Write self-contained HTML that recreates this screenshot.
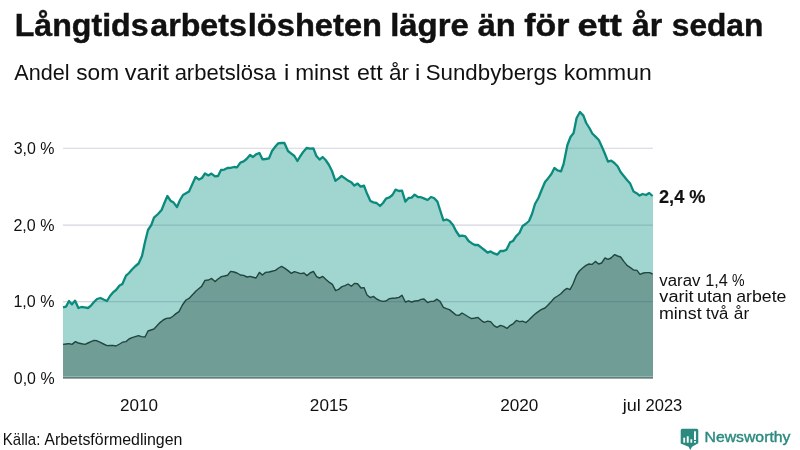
<!DOCTYPE html>
<html><head><meta charset="utf-8">
<style>
html,body{margin:0;padding:0;background:#fff;}
body{width:800px;height:450px;overflow:hidden;font-family:"Liberation Sans",sans-serif;}
svg{display:block;}
text{font-family:"Liberation Sans",sans-serif;fill:#111;}
</style></head><body>
<svg width="800" height="450" viewBox="0 0 800 450">
<rect width="800" height="450" fill="#ffffff"/>
<g stroke="#d4d4df" stroke-width="1.05">
<line x1="63" x2="653" y1="148.3" y2="148.3"/>
<line x1="63" x2="653" y1="225.1" y2="225.1"/>
<line x1="63" x2="653" y1="301.6" y2="301.6"/>
</g>
<path d="M63,307.4 L66,306.6 L69,301 L72,304.4 L75,300.6 L78.4,308 L81.4,307 L84.6,307.4 L88,308 L91,305.6 L94,302 L97,299 L100.4,298 L103.6,299.5 L107,301 L110,296 L113,292.4 L116,290 L119.6,285.6 L122.4,284 L126,275.6 L129,273 L132,269.5 L135,266.5 L138.6,263.5 L142,256 L145,242 L148,230 L151.3,225 L154,217.6 L158,214 L161.6,210 L164.4,203 L167.4,196 L170.5,200.7 L173.6,202.6 L177,207 L180,200 L183,195 L186,193.3 L189,191.6 L192.4,184 L195.6,177 L199,179.6 L202,178 L205,173.4 L208.4,175.4 L211.4,173.6 L215,176.4 L218,176 L221,170 L224.4,169.6 L227.4,168 L230.6,167.8 L234,167 L237,167.4 L240.4,162.6 L243.6,161.4 L246.6,159 L250,155 L253,157 L256,154.4 L259.4,153 L262.6,159.4 L265.6,159 L269,158.4 L272,151 L275,147 L278,143.4 L281.4,143 L284.4,143 L288,151 L291,153.4 L294.4,156 L297.4,161 L300.4,156 L303.6,151.4 L306.6,148 L310,148.6 L313.4,148.4 L316.4,156 L319.6,159.6 L322.6,157 L325.6,160 L329,165 L332,171 L335.4,180.8 L338.4,178.6 L341.6,176 L345,178.4 L348,180.6 L351.6,182.6 L354.4,185.6 L357.6,183.6 L360.6,186.6 L364,185.6 L367,193.6 L370.4,201 L373.4,202.4 L376.6,203 L380,206 L383,203 L386,198.6 L389.4,197.4 L392.4,195 L395.6,189.6 L399,191 L402,190.6 L405.4,201.6 L408.6,198 L411.6,197.6 L414.6,194.6 L418,197 L421,197.2 L424.4,198.6 L427.6,200 L431,197 L434,198 L437.4,201.6 L440.4,211 L443.4,220.4 L446.6,219.5 L449.6,221 L453,225 L456,231 L459.4,236 L462.4,235.6 L465.4,236.4 L468.6,241 L472,243.4 L475,245 L478,245 L481.4,247.6 L484.4,250 L487.6,252.6 L490.6,251.4 L494,253.4 L497.4,254.6 L500.4,251 L503.6,251 L506.6,249.6 L510,242.4 L513,241 L516,236.4 L519.4,233 L522.6,226 L525.6,224 L529,221 L532,214 L535,204 L538.4,198 L541.6,190 L545,182 L548,178.4 L551.4,174 L554.4,168 L557.6,170.4 L561,171.4 L563.6,164 L567.4,145 L570.5,137 L573.6,133 L576.6,118 L580,112 L583.4,115.6 L586.2,123 L589.4,128 L592.3,133.5 L595.5,136.6 L598.8,140 L602,147 L605,154 L608,161.6 L611.2,160.6 L614.4,163 L617.6,166.2 L620.6,172 L624,176.2 L627,180 L630.2,183.6 L633.6,191.6 L636.6,193.2 L639.6,195.6 L642.6,194 L646,195 L649.2,193 L652.6,196 L653,196 L653,377.1 L63,377.1 Z" fill="rgb(20,150,135)" fill-opacity="0.4"/>
<path d="M63,307.4 L66,306.6 L69,301 L72,304.4 L75,300.6 L78.4,308 L81.4,307 L84.6,307.4 L88,308 L91,305.6 L94,302 L97,299 L100.4,298 L103.6,299.5 L107,301 L110,296 L113,292.4 L116,290 L119.6,285.6 L122.4,284 L126,275.6 L129,273 L132,269.5 L135,266.5 L138.6,263.5 L142,256 L145,242 L148,230 L151.3,225 L154,217.6 L158,214 L161.6,210 L164.4,203 L167.4,196 L170.5,200.7 L173.6,202.6 L177,207 L180,200 L183,195 L186,193.3 L189,191.6 L192.4,184 L195.6,177 L199,179.6 L202,178 L205,173.4 L208.4,175.4 L211.4,173.6 L215,176.4 L218,176 L221,170 L224.4,169.6 L227.4,168 L230.6,167.8 L234,167 L237,167.4 L240.4,162.6 L243.6,161.4 L246.6,159 L250,155 L253,157 L256,154.4 L259.4,153 L262.6,159.4 L265.6,159 L269,158.4 L272,151 L275,147 L278,143.4 L281.4,143 L284.4,143 L288,151 L291,153.4 L294.4,156 L297.4,161 L300.4,156 L303.6,151.4 L306.6,148 L310,148.6 L313.4,148.4 L316.4,156 L319.6,159.6 L322.6,157 L325.6,160 L329,165 L332,171 L335.4,180.8 L338.4,178.6 L341.6,176 L345,178.4 L348,180.6 L351.6,182.6 L354.4,185.6 L357.6,183.6 L360.6,186.6 L364,185.6 L367,193.6 L370.4,201 L373.4,202.4 L376.6,203 L380,206 L383,203 L386,198.6 L389.4,197.4 L392.4,195 L395.6,189.6 L399,191 L402,190.6 L405.4,201.6 L408.6,198 L411.6,197.6 L414.6,194.6 L418,197 L421,197.2 L424.4,198.6 L427.6,200 L431,197 L434,198 L437.4,201.6 L440.4,211 L443.4,220.4 L446.6,219.5 L449.6,221 L453,225 L456,231 L459.4,236 L462.4,235.6 L465.4,236.4 L468.6,241 L472,243.4 L475,245 L478,245 L481.4,247.6 L484.4,250 L487.6,252.6 L490.6,251.4 L494,253.4 L497.4,254.6 L500.4,251 L503.6,251 L506.6,249.6 L510,242.4 L513,241 L516,236.4 L519.4,233 L522.6,226 L525.6,224 L529,221 L532,214 L535,204 L538.4,198 L541.6,190 L545,182 L548,178.4 L551.4,174 L554.4,168 L557.6,170.4 L561,171.4 L563.6,164 L567.4,145 L570.5,137 L573.6,133 L576.6,118 L580,112 L583.4,115.6 L586.2,123 L589.4,128 L592.3,133.5 L595.5,136.6 L598.8,140 L602,147 L605,154 L608,161.6 L611.2,160.6 L614.4,163 L617.6,166.2 L620.6,172 L624,176.2 L627,180 L630.2,183.6 L633.6,191.6 L636.6,193.2 L639.6,195.6 L642.6,194 L646,195 L649.2,193 L652.6,196" fill="none" stroke="#0b8b7d" stroke-width="2.3" stroke-linejoin="round" stroke-linecap="butt"/>
<path d="M63,344.4 L66,344 L69,343.6 L72,344.4 L75.4,341.6 L78.4,343 L81.6,343.7 L85,344.4 L88,343 L91,341.7 L94,340.4 L97,340.8 L100.4,342.4 L103.6,344 L107,345.6 L110,345.5 L113,345.4 L116,346 L119.6,344 L123,342 L126,341.6 L129,339 L132,337.6 L135.2,336.6 L138.4,335.6 L141.6,336.6 L145,337 L148,331 L151,330 L154,329 L157,325.8 L160,322.6 L163.2,320 L166.4,318.4 L170.4,318 L173.2,316 L176,313.6 L179,311.6 L182.4,305 L186,300 L189,298.4 L192.5,294.7 L196,291 L199,288.5 L201.6,286.4 L205,280.4 L208.6,280 L211.6,278.4 L215,281.6 L218,279 L221.4,276.6 L224.4,276 L227.6,275.2 L230.6,271.4 L234,272 L237,273 L240.4,275 L243.6,275.4 L247,277 L250,276.4 L253,277.2 L256,278 L259.4,272.4 L262.4,275 L265.6,272.4 L269,272 L272,271.2 L275.4,270.4 L278.6,268 L281.6,266.4 L285,268.4 L288,270.6 L291.4,273.4 L294.4,271.6 L297.6,272.6 L300.6,273.6 L304,273 L307,275.6 L310,273 L313.4,271.4 L316.6,276.6 L319.6,278 L322.8,276.4 L326,279.4 L329.4,282.4 L332.4,284.4 L335.6,290.6 L338.6,289.4 L342,286.6 L345,285.6 L348,284 L351.4,286.2 L354.4,283.4 L357.6,283.8 L361,288 L364,287.6 L367,295 L370.4,297.6 L373.4,296.4 L376.6,299 L380,300.6 L383,301.4 L386,301 L389.4,298.6 L392.6,298.2 L395.6,298 L399,297.4 L402,295.2 L405.4,302 L408.6,300.8 L411.6,302 L415,301 L418,300.8 L421,299.4 L424,299 L427.6,302.6 L430.6,301.4 L434,301.2 L437,299.2 L440,301.4 L443.4,307.4 L446.4,308.6 L449.4,309.6 L452.8,312.4 L456,315 L459,315.4 L462,313 L465.4,315 L468.6,317 L471.6,318.6 L475,318 L478,317.4 L481.4,320.6 L484.4,322.4 L487.6,321.2 L490.6,321.6 L494,325.6 L497,327.4 L500.4,325.4 L503.6,326.4 L507,328.4 L510,325.6 L513.4,323.6 L516.4,320.4 L519.6,321.6 L522.6,321.2 L526,322.6 L529.4,319.6 L532.4,316.6 L535.6,313.6 L538.6,311.4 L541.6,309.4 L545,308 L548,305 L551.4,301.4 L554.4,298 L557.6,296 L560.6,294 L564,290.4 L567,288.4 L570,289.6 L573,284 L576.4,275.4 L579.4,271 L582.6,268 L586,265.4 L589,264 L592,264.4 L595.4,261.4 L598.6,264 L601.6,263 L605,258 L608,259.4 L611,258 L614.6,254.6 L617.6,256 L620.6,257 L624,261.6 L627,265.4 L630.4,267.6 L633.6,270 L637,270.4 L640,274.4 L643.4,273 L646.6,272.6 L649.6,272.6 L652.6,274 L653,274 L653,376.4 L63,376.4 Z" fill="rgb(41,75,67)" fill-opacity="0.4"/>
<path d="M63,344.4 L66,344 L69,343.6 L72,344.4 L75.4,341.6 L78.4,343 L81.6,343.7 L85,344.4 L88,343 L91,341.7 L94,340.4 L97,340.8 L100.4,342.4 L103.6,344 L107,345.6 L110,345.5 L113,345.4 L116,346 L119.6,344 L123,342 L126,341.6 L129,339 L132,337.6 L135.2,336.6 L138.4,335.6 L141.6,336.6 L145,337 L148,331 L151,330 L154,329 L157,325.8 L160,322.6 L163.2,320 L166.4,318.4 L170.4,318 L173.2,316 L176,313.6 L179,311.6 L182.4,305 L186,300 L189,298.4 L192.5,294.7 L196,291 L199,288.5 L201.6,286.4 L205,280.4 L208.6,280 L211.6,278.4 L215,281.6 L218,279 L221.4,276.6 L224.4,276 L227.6,275.2 L230.6,271.4 L234,272 L237,273 L240.4,275 L243.6,275.4 L247,277 L250,276.4 L253,277.2 L256,278 L259.4,272.4 L262.4,275 L265.6,272.4 L269,272 L272,271.2 L275.4,270.4 L278.6,268 L281.6,266.4 L285,268.4 L288,270.6 L291.4,273.4 L294.4,271.6 L297.6,272.6 L300.6,273.6 L304,273 L307,275.6 L310,273 L313.4,271.4 L316.6,276.6 L319.6,278 L322.8,276.4 L326,279.4 L329.4,282.4 L332.4,284.4 L335.6,290.6 L338.6,289.4 L342,286.6 L345,285.6 L348,284 L351.4,286.2 L354.4,283.4 L357.6,283.8 L361,288 L364,287.6 L367,295 L370.4,297.6 L373.4,296.4 L376.6,299 L380,300.6 L383,301.4 L386,301 L389.4,298.6 L392.6,298.2 L395.6,298 L399,297.4 L402,295.2 L405.4,302 L408.6,300.8 L411.6,302 L415,301 L418,300.8 L421,299.4 L424,299 L427.6,302.6 L430.6,301.4 L434,301.2 L437,299.2 L440,301.4 L443.4,307.4 L446.4,308.6 L449.4,309.6 L452.8,312.4 L456,315 L459,315.4 L462,313 L465.4,315 L468.6,317 L471.6,318.6 L475,318 L478,317.4 L481.4,320.6 L484.4,322.4 L487.6,321.2 L490.6,321.6 L494,325.6 L497,327.4 L500.4,325.4 L503.6,326.4 L507,328.4 L510,325.6 L513.4,323.6 L516.4,320.4 L519.6,321.6 L522.6,321.2 L526,322.6 L529.4,319.6 L532.4,316.6 L535.6,313.6 L538.6,311.4 L541.6,309.4 L545,308 L548,305 L551.4,301.4 L554.4,298 L557.6,296 L560.6,294 L564,290.4 L567,288.4 L570,289.6 L573,284 L576.4,275.4 L579.4,271 L582.6,268 L586,265.4 L589,264 L592,264.4 L595.4,261.4 L598.6,264 L601.6,263 L605,258 L608,259.4 L611,258 L614.6,254.6 L617.6,256 L620.6,257 L624,261.6 L627,265.4 L630.4,267.6 L633.6,270 L637,270.4 L640,274.4 L643.4,273 L646.6,272.6 L649.6,272.6 L652.6,274" fill="none" stroke="#21463f" stroke-width="1.4" stroke-linejoin="round"/>
<line x1="63" x2="653" y1="377.8" y2="377.8" stroke="#33524d" stroke-width="1.35"/>
<g opacity="0.999">
<text transform="translate(14.69,36) scale(1.0306,1)" font-size="31.2" font-weight="bold" stroke="#111" stroke-width="0.45">Långtids</text>
<text transform="translate(150.24,36) scale(1.0317,1)" font-size="31.2" font-weight="bold" stroke="#111" stroke-width="0.45">arbets</text>
<text transform="translate(247.71,36) scale(1.0473,1)" font-size="31.2" font-weight="bold" stroke="#111" stroke-width="0.45">lösheten</text>
<text transform="translate(390.14,36) scale(1.0562,1)" font-size="31.2" font-weight="bold" stroke="#111" stroke-width="0.45">lägre</text>
<text transform="translate(477.73,36) scale(1.0449,1)" font-size="31.2" font-weight="bold" stroke="#111" stroke-width="0.45">än</text>
<text transform="translate(524.25,36) scale(1.0873,1)" font-size="31.2" font-weight="bold" stroke="#111" stroke-width="0.45">för</text>
<text transform="translate(577.59,36) scale(1.1626,1)" font-size="31.2" font-weight="bold" stroke="#111" stroke-width="0.45">ett</text>
<text transform="translate(631.99,36) scale(1.0263,1)" font-size="31.2" font-weight="bold" stroke="#111" stroke-width="0.45">år</text>
<text transform="translate(671.84,36) scale(1.0138,1)" font-size="31.2" font-weight="bold" stroke="#111" stroke-width="0.45">sedan</text>
<text transform="translate(14.35,80) scale(1.0005,1)" font-size="21.6">Andel</text>
<text transform="translate(76.23,80) scale(1.0498,1)" font-size="21.6">som</text>
<text transform="translate(124.65,80) scale(1.0909,1)" font-size="21.6">varit</text>
<text transform="translate(174.63,80) scale(1.0201,1)" font-size="21.6">arbetslösa</text>
<text transform="translate(284.03,80) scale(1.1055,1)" font-size="21.6">i</text>
<text transform="translate(295.25,80) scale(1.0478,1)" font-size="21.6">minst</text>
<text transform="translate(356.91,80) scale(1.0743,1)" font-size="21.6">ett</text>
<text transform="translate(389.09,80) scale(1.0402,1)" font-size="21.6">år</text>
<text transform="translate(415.03,80) scale(1.1055,1)" font-size="21.6">i</text>
<text transform="translate(425.73,80) scale(1.0320,1)" font-size="21.6">Sundbybergs</text>
<text transform="translate(563.68,80) scale(1.0633,1)" font-size="21.6">kommun</text>
<text transform="translate(13.68,153.9) scale(0.9971,1)" font-size="16">3,0 %</text>
<text transform="translate(13.43,230.9) scale(1.0034,1)" font-size="16">2,0 %</text>
<text transform="translate(13.39,307.4) scale(1.0042,1)" font-size="16">1,0 %</text>
<text transform="translate(13.83,383.8) scale(0.9961,1)" font-size="16">0,0 %</text>
<text transform="translate(119.97,411.3) scale(1.0678,1)" font-size="16">2010</text>
<text transform="translate(309.86,411.3) scale(1.0723,1)" font-size="16">2015</text>
<text transform="translate(500.22,411.3) scale(1.0708,1)" font-size="16">2020</text>
<text transform="translate(622.75,411.3) scale(1.1308,1)" font-size="16">jul</text>
<text transform="translate(645.52,411.3) scale(1.0344,1)" font-size="16">2023</text>
<text transform="translate(658.99,203.3) scale(0.9713,1)" font-size="18.7" font-weight="bold" stroke="#111" stroke-width="0.2">2,4 %</text>
<text transform="translate(659.35,285.6) scale(1.0380,1)" font-size="16.2">varav</text>
<text transform="translate(705.24,285.6) scale(1.0057,1)" font-size="16.2">1,4</text>
<text transform="translate(731.93,285.6) scale(0.8730,1)" font-size="16.2">%</text>
<text transform="translate(659.35,302.4) scale(1.1200,1)" font-size="16.2">varit</text>
<text transform="translate(696.88,302.4) scale(1.1185,1)" font-size="16.2">utan</text>
<text transform="translate(736.23,302.4) scale(1.0938,1)" font-size="16.2">arbete</text>
<text transform="translate(658.90,319.3) scale(1.1043,1)" font-size="16.2">minst</text>
<text transform="translate(706.05,319.3) scale(1.0329,1)" font-size="16.2">två</text>
<text transform="translate(733.78,319.3) scale(1.0670,1)" font-size="16.2">år</text>
<text transform="translate(2.81,444.8) scale(0.9381,1)" font-size="16">Källa:</text>
<text transform="translate(44.35,444.8) scale(0.9957,1)" font-size="16">Arbetsförmedlingen</text>
<text transform="translate(704.50,442.4) scale(1.0532,1)" font-size="15" style="fill:#2b8a80;stroke:#2b8a80;stroke-width:0.4px">Newsworthy</text>
</g>
<g>
<path d="M682.2,428.7 H696.8 Q698.3,428.7 698.3,430.2 V443.2 L692,446.8 L690.3,450 L688.6,446.8 L680.7,443.4 V430.2 Q680.7,428.7 682.2,428.7 Z" fill="#2b8a80"/>
<rect x="683.3" y="437.7" width="1.8" height="5" fill="#fff"/>
<rect x="686.8" y="436.3" width="1.9" height="6.4" fill="#fff"/>
<rect x="690.4" y="439.3" width="1.8" height="3.4" fill="#fff"/>
<rect x="694" y="431.3" width="1.9" height="8.7" fill="#fff"/>
<rect x="694" y="441" width="1.9" height="1.7" fill="#fff"/>
</g>
</svg>
</body></html>
